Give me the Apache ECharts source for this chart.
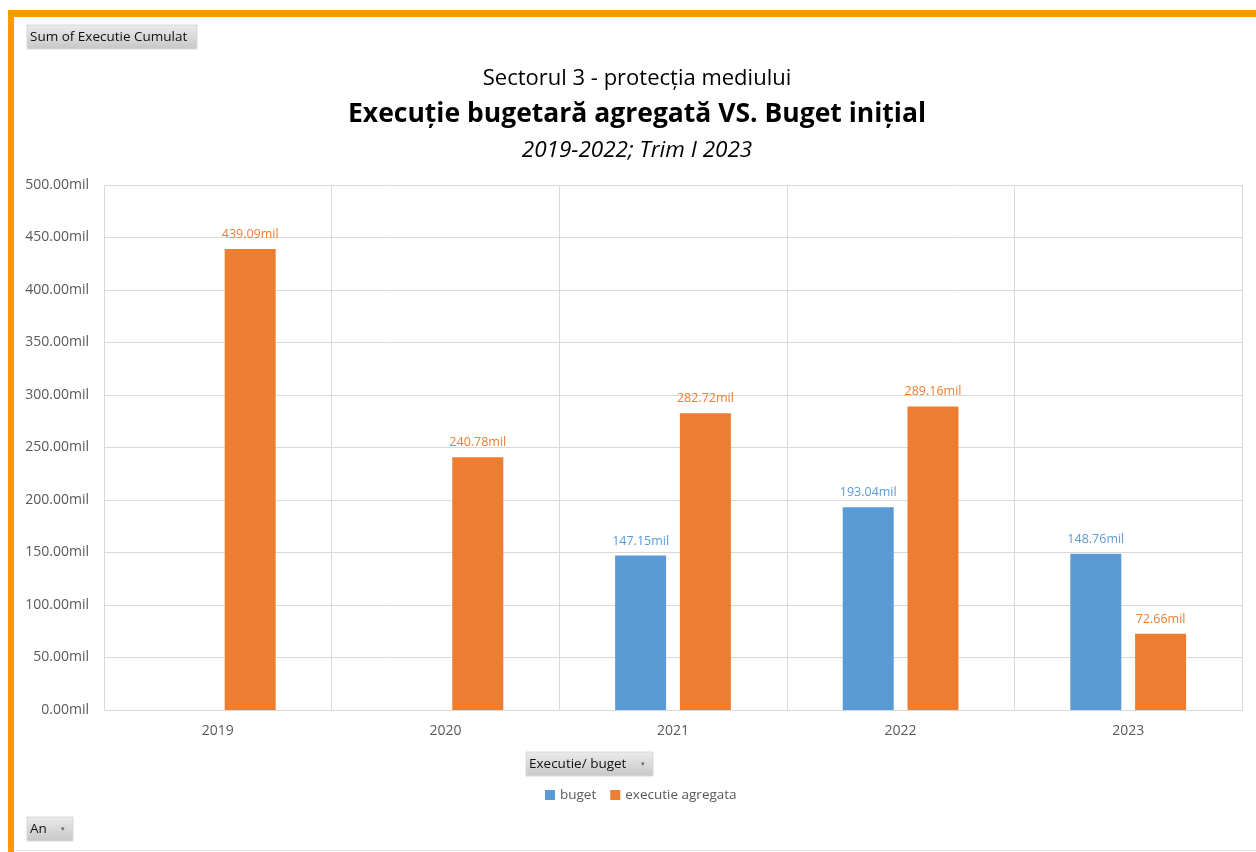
<!DOCTYPE html>
<html>
<head>
<meta charset="utf-8">
<script src="https://cdn.jsdelivr.net/npm/echarts@6/dist/echarts.min.js"></script>
<style>
html,body{margin:0;padding:0;background:#fff;}
#c{width:1256px;height:852px;}
</style>
</head>
<body>
<div id="c"></div>
<script>
const categories = ['2019', '2020', '2021', '2022', '2023'];
const buget = [null, null, 147.15, 193.04, 148.76];
const executieAgregata = [439.09, 240.78, 282.72, 289.16, 72.66];
const yTicks = { min: 0, max: 500, interval: 50 };

const FONT = '"Open Sans", "Noto Sans", sans-serif';
const chart = echarts.init(document.getElementById('c'), null, { renderer: 'canvas' });

function button(x, y, w, h, label, arrow) {
  const children = [
    { type: 'rect', shape: { x: 0, y: 0, width: w, height: h },
      style: { fill: new echarts.graphic.LinearGradient(0, 0, 0, 1, [
        { offset: 0, color: '#ececec' }, { offset: 1, color: '#c6c6c6' }]),
        stroke: '#d8d8d8', lineWidth: 1 } },
    { type: 'text', x: 3, y: h / 2,
      style: { text: label, fill: '#111', font: '13.5px ' + FONT, textVerticalAlign: 'middle' } }
  ];
  if (arrow) {
    children.push({ type: 'text', x: w - 12, y: h / 2,
      style: { text: '▾', fill: '#666', font: '7px ' + FONT, textVerticalAlign: 'middle' } });
  }
  return { type: 'group', x: x, y: y, children: children };
}

const option = {
  backgroundColor: '#fff',
  animation: false,
  textStyle: { fontFamily: FONT },
  title: [
    { text: 'Sectorul 3 - protecția mediului', left: 632, top: 63, textAlign: 'center',
      textStyle: { fontSize: 22, fontWeight: 'normal', color: '#000', fontFamily: FONT } },
    { text: 'Execuție bugetară agregată VS. Buget inițial', left: 632, top: 96, textAlign: 'center',
      textStyle: { fontSize: 26.5, fontWeight: 'bold', color: '#000', fontFamily: FONT } },
    { text: '2019-2022; Trim I 2023', left: 632, top: 134, textAlign: 'center',
      textStyle: { fontSize: 22.5, fontStyle: 'italic', fontWeight: 'normal', color: '#000', fontFamily: FONT } }
  ],
  legend: {
    left: 540, top: 783, itemWidth: 10, itemHeight: 10, itemGap: 14, icon: 'rect',
    textStyle: { color: '#595959', fontSize: 13.5, fontFamily: FONT },
    data: ['buget', 'executie agregata']
  },
  grid: { left: 104, right: 14, top: 185, bottom: 142 },
  xAxis: {
    type: 'category', data: categories,
    axisLine: { show: true, lineStyle: { color: '#d9d9d9' } },
    axisTick: { show: false },
    splitLine: { show: true, lineStyle: { color: '#d9d9d9' } },
    axisLabel: { color: '#595959', fontSize: 14, margin: 14, fontFamily: FONT }
  },
  yAxis: {
    type: 'value', min: yTicks.min, max: yTicks.max, interval: yTicks.interval,
    axisLine: { show: false }, axisTick: { show: false },
    splitLine: { lineStyle: { color: '#d9d9d9' } },
    axisLabel: { color: '#595959', fontSize: 14, margin: 15, fontFamily: FONT,
      formatter: v => v.toFixed(2) + 'mil' }
  },
  series: [
    { name: 'buget', type: 'bar', data: buget, barWidth: 51, barGap: '27%',
      itemStyle: { color: '#5B9BD5' },
      label: { show: true, position: 'top', distance: 8, color: '#5B9BD5', fontSize: 12.5, fontFamily: FONT,
        formatter: p => p.value == null ? '' : p.value.toFixed(2) + 'mil' } },
    { name: 'executie agregata', type: 'bar', data: executieAgregata, barWidth: 51, barGap: '27%',
      itemStyle: { color: '#ED7D31' },
      label: { show: true, position: 'top', distance: 8, color: '#ED7D31', fontSize: 12.5, fontFamily: FONT,
        formatter: p => p.value.toFixed(2) + 'mil' } }
  ],
  graphic: [
    { type: 'rect', shape: { x: 8, y: 10, width: 1248, height: 7 }, style: { fill: '#FF9900' } },
    { type: 'rect', shape: { x: 8, y: 10, width: 6, height: 842 }, style: { fill: '#FF9900' } },
    { type: 'rect', shape: { x: 14, y: 850, width: 1242, height: 1 }, style: { fill: '#e4e4e4' } },
    button(27, 25, 170, 24, 'Sum of Executie Cumulat', false),
    button(526, 752, 127, 24, 'Executie/ buget', true),
    button(27, 817, 46, 24, 'An', true)
  ]
};
chart.setOption(option);
</script>
</body>
</html>
